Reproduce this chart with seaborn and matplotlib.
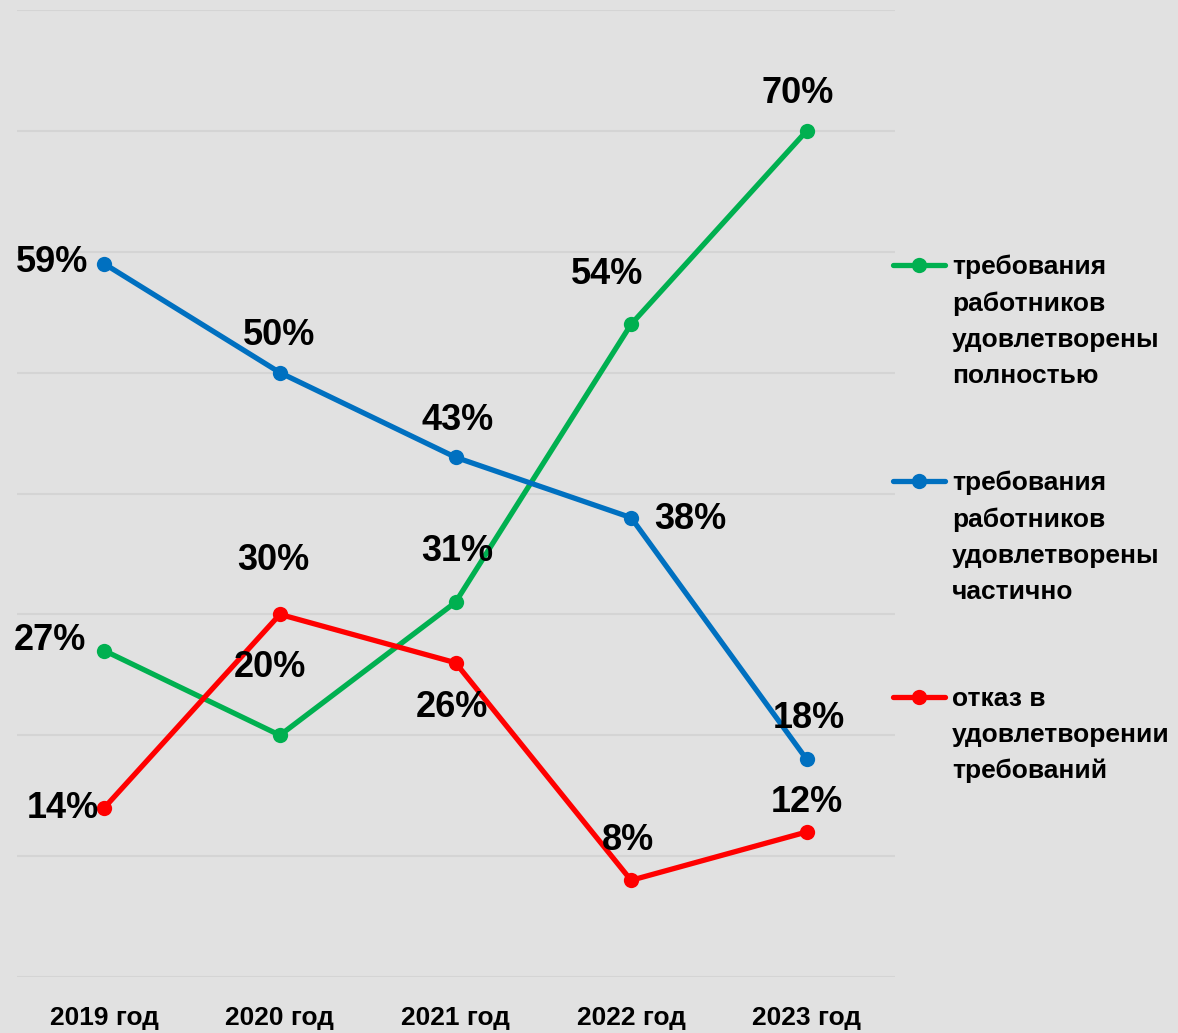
import pandas as pd
import matplotlib.pyplot as plt
import seaborn as sns
from matplotlib.lines import Line2D

# ── данные ─────────────────────────────────────────────────────
years = ["2019 год", "2020 год", "2021 год", "2022 год", "2023 год"]
full_ok = [27, 20, 31, 54, 70]
part_ok = [59, 50, 43, 38, 18]
refused = [14, 30, 26, 8, 12]

series_names = [
    "требования\nработников\nудовлетворены\nполностью",
    "требования\nработников\nудовлетворены\nчастично",
    "отказ в\nудовлетворении\nтребований",
]
colors = ["#00b050", "#0070c0", "#ff0000"]

# смещения подписей (px) относительно точки
offsets = {
    0: [(-54, 10), (-10, 68), (2, 51), (-24, 50), (-9, 37)],
    1: [(-52, 1), (-1, 37), (2, 37), (59, -2), (2, 41)],
    2: [(-41, -1), (-7, 54), (-4, -45), (-3, 40), (0, 29)],
}

df = pd.concat([
    pd.DataFrame({"Год": years, "Доля": vals, "Серия": name})
    for name, vals in zip(series_names, [full_ok, part_ok, refused])
])

BG = "#e1e1e1"
sns.set_theme(style="white")
plt.rcParams["font.family"] = ["Liberation Sans Narrow", "Liberation Sans", "DejaVu Sans"]
plt.rcParams["font.weight"] = "bold"

fig = plt.figure(figsize=(11.78, 10.33), dpi=100, facecolor=BG)
ax = fig.add_axes([16.5/1178, 56/1033, (894.5-16.5)/1178, 967/1033])
ax.set_facecolor(BG)

sns.lineplot(data=df, x="Год", y="Доля", hue="Серия", palette=colors,
             marker="o", markersize=11, markeredgewidth=0, linewidth=3.8,
             sort=False, legend=False, ax=ax)

# подписи значений
for i, vals in enumerate([full_ok, part_ok, refused]):
    for j, v in enumerate(vals):
        dx, dy = offsets[i][j]
        ax.annotate(f"{v}%", (j, v), xytext=(dx*0.72, dy*0.72),
                    textcoords="offset points", ha="center", va="center",
                    fontsize=26, fontweight="bold", color="black")

ax.set_xlim(-0.5, 4.5)
ax.set_ylim(0, 80)
ax.set_yticks(range(0, 81, 10))
ax.set_yticklabels([])
ax.tick_params(axis="y", length=0)
ax.tick_params(axis="x", length=0, pad=21, labelsize=19, labelcolor="black")
for lbl in ax.get_xticklabels():
    lbl.set_fontweight("bold")
ax.grid(axis="y", color="#d4d4d4", linewidth=1.5)
ax.set_axisbelow(True)
ax.set_xlabel("")
ax.set_ylabel("")
for s in ax.spines.values():
    s.set_visible(False)

# легенда справа (вручную, чтобы маркер стоял у первой строки)
W, H = 1178, 1033
for k, (name, c) in enumerate(zip(series_names, colors)):
    y = 265 + k*216
    fig.add_artist(Line2D([893/W, 945/W], [1 - y/H]*2, transform=fig.transFigure,
                          color=c, linewidth=3.8))
    fig.add_artist(Line2D([919/W], [1 - y/H], transform=fig.transFigure,
                          color=c, marker="o", markersize=11, markeredgewidth=0))
    fig.text(952/W, 1 - (y - 10)/H, name, ha="left", va="top",
             fontsize=19, fontweight="bold", linespacing=1.62, color="black")

fig.savefig("out.png", dpi=100, facecolor=BG)
